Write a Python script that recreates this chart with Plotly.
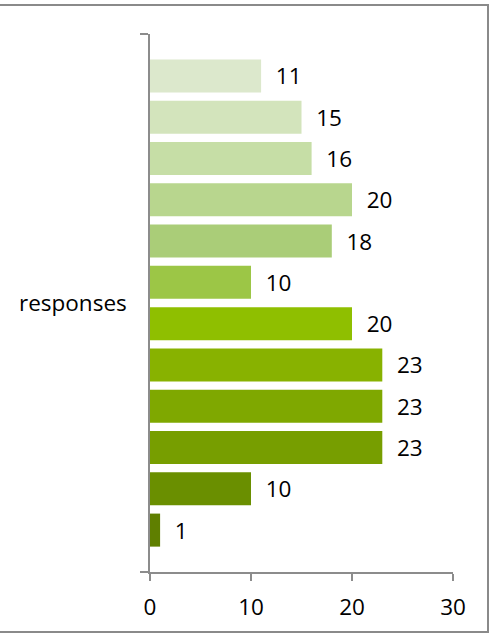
import plotly.graph_objects as go

# Response counts, listed from the bottom bar to the top bar
category = "responses"
values = [1, 10, 23, 23, 23, 20, 10, 18, 20, 16, 15, 11]
colors = ["#5F7F00", "#6A8F00", "#779E00", "#7FA800", "#88B200", "#8FBF00",
          "#9CC646", "#AACD78", "#B8D68E", "#C6DEA6", "#D3E4BC", "#DCE8CC"]
x_ticks = [0, 10, 20, 30]

FONT = "'Open Sans', 'Noto Sans', sans-serif"
FONT_SIZE = 22.5
AXIS_COLOR = "#8c8c8c"

fig = go.Figure()
for i, (v, c) in enumerate(zip(values, colors)):
    fig.add_trace(go.Bar(
        x=[v], y=[category], orientation="h",
        marker=dict(color=c, line=dict(width=0)),
        text=[v], texttemplate="\u00a0\u00a0%{x}",
        textposition="outside", cliponaxis=False,
        textfont=dict(family=FONT, size=FONT_SIZE, color="#000000"),
        showlegend=False, hoverinfo="x",
    ))

fig.update_layout(
    width=490, height=639,
    margin=dict(l=150, r=37, t=34, b=67),
    paper_bgcolor="white", plot_bgcolor="white",
    barmode="group", bargap=0.079, bargroupgap=0.2,
    font=dict(family=FONT, size=FONT_SIZE, color="#000000"),
)
fig.update_xaxes(
    range=[0, 30], tickvals=x_ticks, showgrid=False, zeroline=False,
    showline=True, linecolor=AXIS_COLOR, linewidth=1.5,
    ticks="outside", ticklen=7, tickcolor=AXIS_COLOR, tickwidth=1.5,
    ticklabelstandoff=7,
    tickfont=dict(family=FONT, size=FONT_SIZE, color="#000000"),
)
fig.update_yaxes(
    type="category", showgrid=False, zeroline=False,
    showline=True, linecolor=AXIS_COLOR, linewidth=1.5,
    ticks="outside", tickson="boundaries", ticklen=8,
    tickcolor=AXIS_COLOR, tickwidth=1.5,
    ticklabelstandoff=17,
    tickfont=dict(family=FONT, size=FONT_SIZE, color="#000000"),
)

# Outer chart frame (only the top, right and bottom edges fall inside the view)
fig.add_shape(type="rect", xref="paper", yref="paper",
              x0=-0.6, x1=1.1155, y0=-0.1115, y1=1.054,
              line=dict(color="#8a8a8a", width=2), layer="below")

fig.write_html("out.html")
